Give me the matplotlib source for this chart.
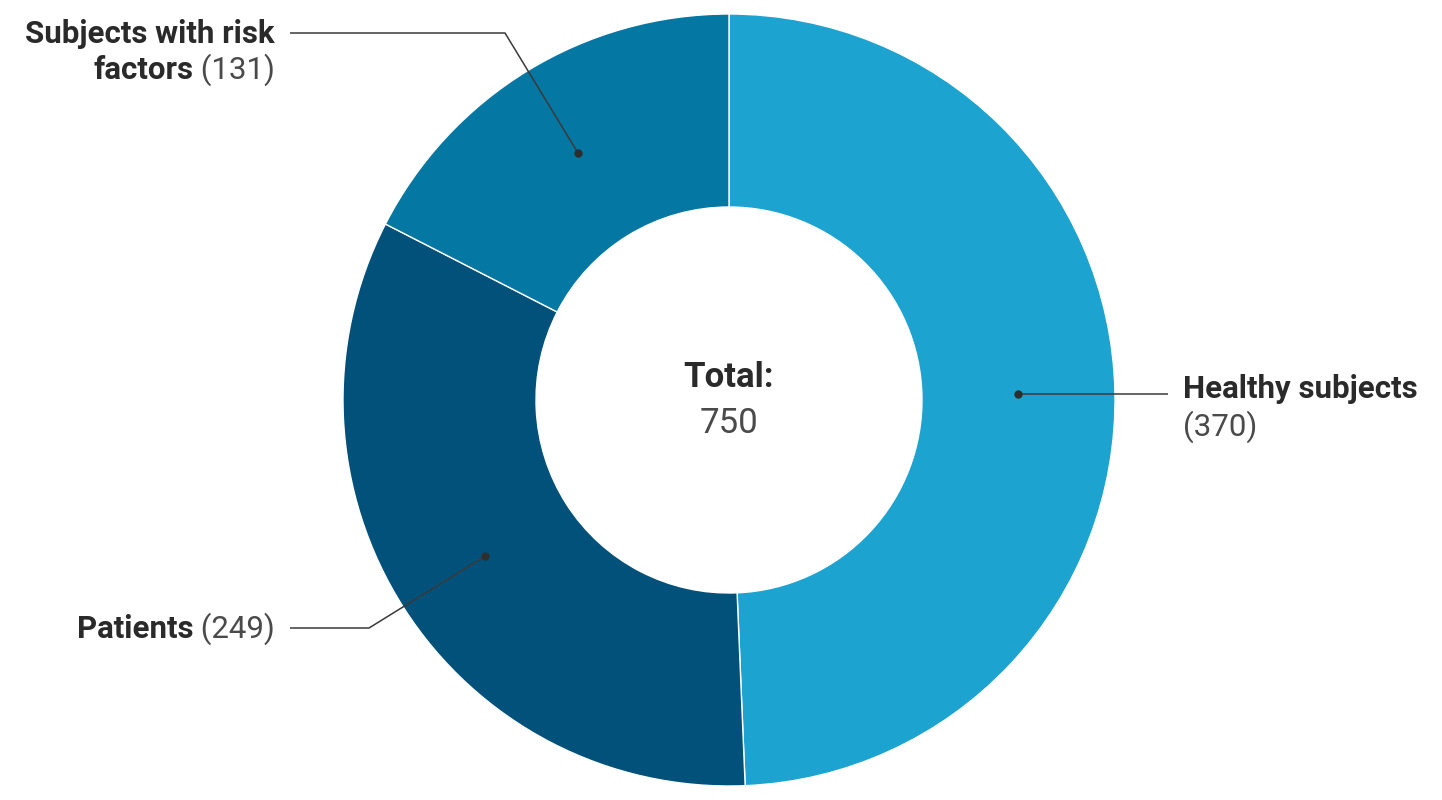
import matplotlib
matplotlib.use("Agg")
import matplotlib.pyplot as plt
import numpy as np

plt.rcParams["font.family"] = ["Roboto", "DejaVu Sans"]

# data
categories = ["Healthy subjects", "Patients", "Subjects with risk\nfactors"]
counts = [370, 249, 131]
colors = ["#1CA3D0", "#01517A", "#0577A3"]

W, H = 1442, 800
CX, CY = 729, H - 400
R = 386
TEXT_DARK = "#2a2a2a"
TEXT_NUM = "#4a4a4a"
FS = 22.5


def py(y):
    # pixel row (from top) -> data y
    return H - y


fig = plt.figure(figsize=(W / 100, H / 100), dpi=100)
ax = fig.add_axes([0, 0, 1, 1])
ax.pie(counts, colors=colors, startangle=90, counterclock=False,
       center=(CX, CY), radius=R,
       wedgeprops=dict(width=R / 2, edgecolor="white", linewidth=1))
ax.set_xlim(0, W)
ax.set_ylim(0, H)
ax.set_aspect("equal")
ax.axis("off")

# centre text
total = sum(counts)
ax.text(CX, py(387), "Total:", ha="center", va="baseline", fontsize=25,
        fontweight="bold", color=TEXT_DARK)
ax.text(CX, py(433), f"{total}", ha="center", va="baseline", fontsize=25,
        color=TEXT_NUM)

# dot positions at the middle of each ring segment
cum = np.cumsum(counts)
mids = 90 - (cum - np.array(counts) / 2) / total * 360
dots = [(CX + 0.75 * R * np.cos(np.radians(a)), CY + 0.75 * R * np.sin(np.radians(a)))
        for a in mids]

line_kw = dict(color="#3a3a3a", lw=1.1, solid_capstyle="butt", zorder=4)
for x, y in dots:
    ax.plot(x, y, "o", color="#2e2e2e", ms=5, zorder=5)

# healthy subjects: straight leader to the right
hx, hy = dots[0]
ax.plot([hx, 1168], [hy, hy], **line_kw)
ax.text(1183, py(398), categories[0], ha="left", va="baseline", fontsize=FS,
        fontweight="bold", color=TEXT_DARK)
ax.text(1183, py(436), f"({counts[0]})", ha="left", va="baseline", fontsize=FS,
        color=TEXT_NUM)

# patients: leader with an elbow to the left
px_, py_ = dots[1]
ax.plot([px_, 369, 290], [py_, py(628), py(628)], **line_kw)

# risk factors: leader up then left
rx, ry = dots[2]
ax.plot([rx, 505, 290], [ry, py(33), py(33)], **line_kw)

fig.canvas.draw()
renderer = fig.canvas.get_renderer()
inv = ax.transData.inverted()


def right_label(bold, num, x_right, y_base):
    t = ax.text(x_right, y_base, f" ({num})", ha="right", va="baseline",
                fontsize=FS, color=TEXT_NUM)
    bb = t.get_window_extent(renderer)
    x0 = inv.transform((bb.x0, bb.y0))[0]
    ax.text(x0, y_base, bold, ha="right", va="baseline", fontsize=FS,
            fontweight="bold", color=TEXT_DARK)


right_label(categories[1], counts[1], 275, py(638))
line1, line2 = categories[2].split("\n")
ax.text(275, py(43), line1, ha="right", va="baseline", fontsize=FS,
        fontweight="bold", color=TEXT_DARK)
right_label(line2, counts[2], 275, py(79))

fig.savefig("out.png", dpi=100, facecolor="white")
